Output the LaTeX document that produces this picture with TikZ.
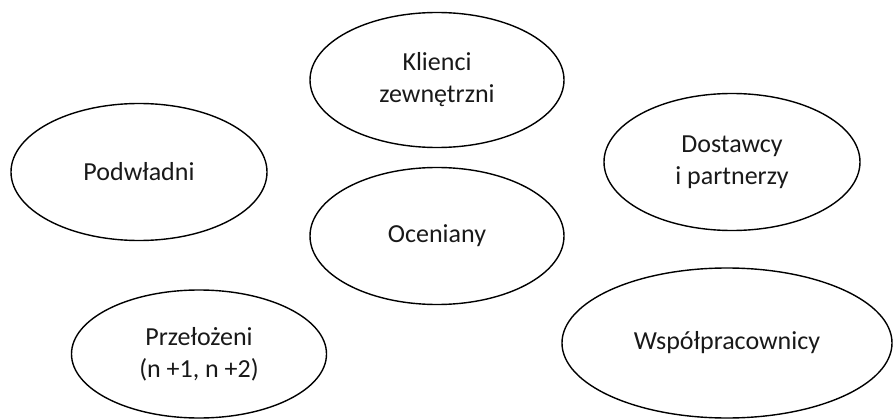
\documentclass[tikz,border=0pt]{standalone}
\usepackage{fontspec}
\setmainfont{Carlito}
\usetikzlibrary{shapes.geometric}
\begin{document}
\begin{tikzpicture}[x=1pt,y=-1pt,
  group/.style={draw=black, line width=1.4pt, ellipse, inner sep=0pt,
    align=center, font=\fontsize{26}{32}\selectfont, text=black!90}]
  \useasboundingbox (0,0) rectangle (895,420);
  \node[group, minimum width=254pt, minimum height=135pt] (klienci) at (437,80) {Klienci\\zewnętrzni};
  \node[group, minimum width=256pt, minimum height=137pt] (podwladni) at (139,172) {Podwładni};
  \node[group, minimum width=256pt, minimum height=137pt] (dostawcy) at (732,162) {Dostawcy\\i partnerzy};
  \node[group, minimum width=254pt, minimum height=137pt] (oceniany) at (437,236) {Oceniany};
  \node[group, minimum width=255pt, minimum height=128pt] (przelozeni) at (199,354) {Przełożeni\\(n +1, n +2)};
  \node[group, minimum width=330pt, minimum height=150pt] (wspol) at (727,343) {Współpracownicy};
\end{tikzpicture}
\end{document}
